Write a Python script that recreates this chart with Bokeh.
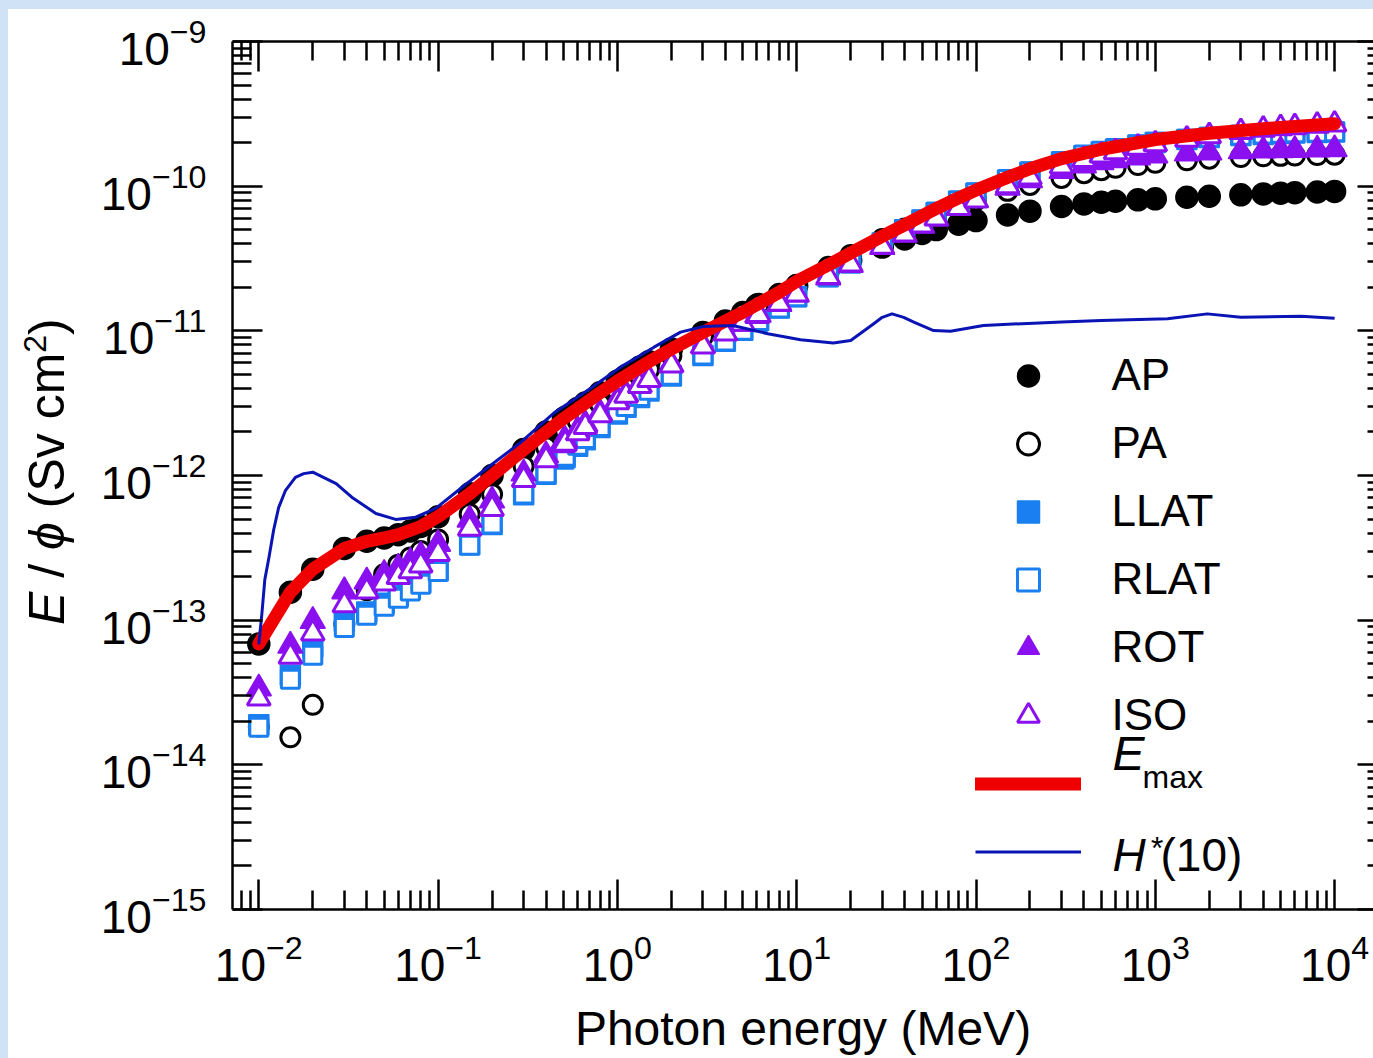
from bokeh.plotting import figure
from bokeh.models import (LogAxis, FixedTicker, Legend, LegendItem, Label, ColumnDataSource,
                          Range1d, CustomJSTickFormatter, Spacer, Div)
from bokeh.layouts import column, row
from bokeh.embed import file_html
from bokeh.resources import INLINE

# ---------------- data (pSv cm^2) ----------------
energy = [0.01, 0.015, 0.02, 0.03, 0.04, 0.05, 0.06, 0.07, 0.08, 0.1,
          0.15, 0.2, 0.3, 0.4, 0.5, 0.511, 0.6, 0.662, 0.8, 1.0,
          1.117, 1.33, 1.5, 2.0, 3.0, 4.0, 5.0, 6.0, 6.129, 8.0, 10.0,
          15.0, 20.0, 30.0, 40.0, 50.0, 60.0, 80.0, 100.0,
          150.0, 200.0, 300.0, 400.0, 500.0, 600.0, 800.0, 1000.0,
          1500.0, 2000.0, 3000.0, 4000.0, 5000.0, 6000.0, 8000.0, 10000.0]

ap = [0.0685, 0.156, 0.225, 0.313, 0.351, 0.370, 0.390, 0.413, 0.444, 0.519,
      0.748, 1.00, 1.51, 2.00, 2.47, 2.52, 2.91, 3.17, 3.73, 4.49,
      4.90, 5.59, 6.12, 7.48, 9.75, 11.7, 13.4, 15.0, 15.2, 17.8, 20.5,
      26.1, 30.8, 37.9, 43.1, 47.1, 50.1, 54.5, 57.8,
      63.2, 67.2, 72.3, 75.4, 77.4, 78.7, 80.4, 81.7, 83.8, 85.2, 87.1, 88.4, 89.5, 90.2, 91.2, 92.0]

pa = [0.0184, 0.0155, 0.0260, 0.0940, 0.161, 0.208, 0.242, 0.271, 0.301, 0.361,
      0.541, 0.741, 1.16, 1.57, 1.98, 2.03, 2.38, 2.62, 3.13, 3.83,
      4.22, 4.89, 5.39, 6.75, 9.12, 11.2, 13.1, 14.8, 15.0, 17.8, 20.8,
      27.7, 33.5, 43.1, 51.0, 57.5, 63.1, 72.3, 79.8,
      92.8, 102, 114, 123, 129, 134, 140, 145, 151, 155, 159, 161, 162, 163, 164, 165]

llat = [0.0189, 0.0416, 0.0655, 0.0983, 0.114, 0.131, 0.148, 0.164, 0.182, 0.220,
        0.332, 0.459, 0.735, 1.02, 1.30, 1.33, 1.59, 1.77, 2.15, 2.66,
        2.96, 3.46, 3.84, 4.88, 6.76, 8.47, 10.1, 11.6, 11.8, 14.4, 17.2,
        23.7, 29.6, 40.4, 49.9, 58.3, 65.8, 78.6, 89.5,
        110, 125, 147, 162, 172, 180, 192, 200, 210, 217, 224, 228, 231, 233, 235, 237]

rlat = [0.0182, 0.0390, 0.0573, 0.0891, 0.108, 0.125, 0.142, 0.159, 0.177, 0.217,
        0.330, 0.462, 0.746, 1.03, 1.33, 1.36, 1.62, 1.80, 2.18, 2.71,
        3.00, 3.51, 3.88, 4.93, 6.82, 8.52, 10.1, 11.6, 11.8, 14.4, 17.2,
        23.6, 29.4, 40.2, 49.8, 58.3, 65.9, 79.1, 90.0,
        111, 126, 148, 164, 174, 182, 193, 201, 211, 218, 225, 229, 232, 234, 236, 238]

rot = [0.0337, 0.0664, 0.0986, 0.158, 0.185, 0.208, 0.230, 0.253, 0.280, 0.336,
       0.495, 0.671, 1.03, 1.38, 1.73, 1.76, 2.06, 2.27, 2.71, 3.33,
       3.66, 4.26, 4.68, 5.86, 7.90, 9.65, 11.2, 12.7, 12.9, 15.3, 17.8,
       23.4, 28.5, 37.9, 46.1, 53.3, 59.7, 70.8, 80.1,
       97.4, 110, 127, 139, 146, 151, 158, 163, 168, 171, 174, 176, 177, 178, 179, 180]

iso = [0.0288, 0.0560, 0.0812, 0.127, 0.158, 0.180, 0.199, 0.218, 0.239, 0.287,
       0.429, 0.589, 0.932, 1.28, 1.62, 1.66, 1.96, 2.17, 2.61, 3.21,
       3.56, 4.17, 4.58, 5.77, 7.81, 9.59, 11.2, 12.7, 12.9, 15.4, 17.9,
       23.6, 28.8, 38.2, 46.4, 53.5, 59.8, 70.8, 79.8,
       100, 115, 137, 152, 163, 172, 185, 195, 210, 222, 237, 246, 252, 256, 262, 267]

emax_energy = [0.01, 0.015, 0.02, 0.03, 0.04, 0.05, 0.06, 0.08, 0.1, 0.15, 0.2, 0.3, 0.5, 0.8,
               1.0, 1.5, 2.0, 3.0, 4.0, 5.0, 6.0, 8.0, 10.0, 15.0, 20.0, 30.0, 40.0, 60.0, 80.0,
               100.0, 150.0, 200.0, 300.0, 500.0, 1000.0, 2000.0, 5000.0, 10000.0]
emax_value = [0.0685, 0.156, 0.225, 0.313, 0.351, 0.370, 0.390, 0.444, 0.519, 0.748, 1.00, 1.51, 2.47, 3.73,
              4.49, 6.12, 7.48, 9.75, 11.7, 13.4, 15.2, 18.5, 22.0, 28.5, 34.5, 45.0, 54.0, 70.0, 83.0,
              94.0, 115, 132, 155, 180, 210, 232, 255, 270]

hstar_energy = [0.010, 0.0104, 0.0108, 0.0114, 0.0121, 0.0129, 0.0141, 0.016, 0.0178, 0.020,
                0.027, 0.033, 0.045, 0.058, 0.075, 0.097, 0.14, 0.19, 0.29, 0.44, 0.68, 1.04,
                1.6, 2.25, 3.0, 4.4, 6.9, 10.5, 16.0, 20.0, 27.0, 30.0, 34.0, 39.5, 45.0, 58.0,
                72.0, 110.0, 210.0, 300.0, 500.0, 1170.0, 1950.0, 3000.0, 6500.0, 10000.0]
hstar_value = [0.068, 0.11, 0.19, 0.272, 0.42, 0.60, 0.79, 0.97, 1.03, 1.054,
               0.88, 0.708, 0.546, 0.497, 0.515, 0.592, 0.853, 1.14, 1.70, 2.69, 3.87, 5.61,
               7.71, 9.79, 10.7, 10.9, 9.55, 8.69, 8.23, 8.58, 11.24, 12.4, 13.1, 12.4, 11.5, 10.05,
               9.95, 10.9, 11.3, 11.5, 11.8, 12.1, 13.1, 12.4, 12.6, 12.2]

x_ticks = [0.01, 0.1, 1.0, 10.0, 100.0, 1000.0, 10000.0]
y_ticks = [1e-15, 1e-14, 1e-13, 1e-12, 1e-11, 1e-10, 1e-9]
series_names = ["AP", "PA", "LLAT", "RLAT", "ROT", "ISO"]

PSV = 1e-12  # pSv cm^2 -> Sv cm^2

BLUE = "#1a7ff0"
PURPLE = "#8a10f0"
RED = "#f00000"
NAVY = "#0a14b4"
FONT = "Liberation Sans"

src = ColumnDataSource(dict(
    energy=energy,
    ap=[v * PSV for v in ap], pa=[v * PSV for v in pa],
    llat=[v * PSV for v in llat], rlat=[v * PSV for v in rlat],
    rot=[v * PSV for v in rot], iso=[v * PSV for v in iso]))
emax_src = ColumnDataSource(dict(e=emax_energy, v=[v * PSV for v in emax_value]))
h_src = ColumnDataSource(dict(e=hstar_energy, v=[v * PSV for v in hstar_value]))

# frame geometry (page): left 232, right 1373, top 41, bottom 909
DIV_W = 80
decade_px = 179.3
frame_w = 1141
x_lo = -2 - 26.3 / decade_px
x_hi = x_lo + frame_w / decade_px

p = figure(width=1365 - DIV_W, height=1049, x_axis_type="log", y_axis_type="log",
           x_range=Range1d(10 ** x_lo, 10 ** x_hi), y_range=Range1d(1e-15, 1e-9),
           output_backend="svg", toolbar_location=None,
           min_border_left=224 - DIV_W, min_border_right=0, min_border_top=32,
           min_border_bottom=149)
p.margin = 0
p.grid.visible = False
p.background_fill_color = "white"
p.border_fill_color = "white"
p.outline_line_color = None

minor_x = [m * 10.0 ** k for k in range(-3, 5) for m in range(2, 10)]
minor_y = [m * 10.0 ** k for k in range(-16, -9) for m in range(2, 10)]
xt = FixedTicker(ticks=x_ticks, minor_ticks=minor_x)
yt = FixedTicker(ticks=y_ticks, minor_ticks=minor_y)


def style_axis(ax, labels=True):
    ax.major_tick_in = 30
    ax.major_tick_out = 0
    ax.minor_tick_in = 19
    ax.minor_tick_out = 0
    ax.major_tick_line_width = 2.5
    ax.minor_tick_line_width = 2.5
    ax.axis_line_width = 2.5
    ax.major_tick_line_color = "black"
    ax.minor_tick_line_color = "black"
    ax.axis_line_color = "black"
    if labels:
        ax.major_label_text_font = FONT
        ax.major_label_text_font_size = "46px"
        ax.major_label_text_color = "black"
    else:
        ax.formatter = CustomJSTickFormatter(code="return ''")
        ax.major_label_standoff = 0


xa = p.xaxis[0]
xa.ticker = xt
style_axis(xa)
xa.major_label_standoff = 24
xa.axis_label = "Photon energy (MeV)"
xa.axis_label_text_font = FONT
xa.axis_label_text_font_size = "48px"
xa.axis_label_text_font_style = "normal"
xa.axis_label_text_color = "black"
xa.axis_label_standoff = 18

ya = p.yaxis[0]
ya.ticker = yt
style_axis(ya)
ya.major_label_standoff = 26

top = LogAxis(ticker=xt)
style_axis(top, labels=False)
p.add_layout(top, "above")
right = LogAxis(ticker=yt)
style_axis(right, labels=False)
right.major_tick_in = 16
right.minor_tick_in = 6
right.axis_line_color = None
p.add_layout(right, "right")

# ---------------- marks ----------------
r_ap = p.scatter("energy", "ap", source=src, marker="circle", size=22,
                 fill_color="black", line_color="black", line_width=1.5)
r_pa = p.scatter("energy", "pa", source=src, marker="circle", size=19,
                 fill_color="white", line_color="black", line_width=3)
r_llat = p.scatter("energy", "llat", source=src, marker="square", size=20,
                   fill_color=BLUE, line_color=BLUE, line_width=1.5)
r_rlat = p.scatter("energy", "rlat", source=src, marker="square", size=18,
                   fill_color="white", line_color=BLUE, line_width=3)
r_rot = p.scatter("energy", "rot", source=src, marker="triangle", size=25,
                  fill_color=PURPLE, line_color=PURPLE, line_width=1.5)
r_iso = p.scatter("energy", "iso", source=src, marker="triangle", size=23,
                  fill_color="white", line_color=PURPLE, line_width=3)
r_emax = p.line("e", "v", source=emax_src, line_width=13, line_color=RED, line_cap="round",
                line_join="round")
r_h = p.line("e", "v", source=h_src, line_width=3, line_color=NAVY, line_join="round")

legend = Legend(items=[
    LegendItem(label=series_names[0], renderers=[r_ap]),
    LegendItem(label=series_names[1], renderers=[r_pa]),
    LegendItem(label=series_names[2], renderers=[r_llat]),
    LegendItem(label=series_names[3], renderers=[r_rlat]),
    LegendItem(label=series_names[4], renderers=[r_rot]),
    LegendItem(label=series_names[5], renderers=[r_iso]),
    LegendItem(label=" ", renderers=[r_emax]),
    LegendItem(label="  ", renderers=[r_h]),
], location=(742.5, 30.5))
legend.glyph_width = 106
legend.glyph_height = 55
legend.label_height = 55
legend.spacing = 13
legend.padding = 0
legend.margin = 0
legend.label_standoff = 31
legend.border_line_alpha = 0
legend.background_fill_alpha = 0
legend.label_text_font = FONT
legend.label_text_font_size = "44px"
legend.label_text_color = "black"
p.add_layout(legend)


def lab(x, y, text, size, style="normal"):
    p.add_layout(Label(x=x, y=y, x_units="screen", y_units="screen", text=text,
                       text_font=FONT, text_font_size=size, text_font_style=style,
                       text_color="black", text_align="left", text_baseline="alphabetic"))


# legend texts with mixed styles (frame-relative screen coordinates)
lab(880, 156, "E", "48px", "italic")
lab(910, 133, "max", "32px")
lab(880, 55, "H", "46px", "italic")
lab(917, 62, "*", "32px", "italic")
lab(928, 55, "(10)", "46px")

# y axis title (rotated HTML text with italic symbols)
ytitle = Div(width=DIV_W, height=1049, margin=0,
             styles={"background-color": "white"},
             text=(
    '<div style="position:relative;width:%dpx;height:1049px;background:#fff;">'
    '<div style="position:absolute;left:14px;top:616px;transform:rotate(-90deg);'
    'transform-origin:0 0;white-space:nowrap;font-family:\'Liberation Sans\',Arial,sans-serif;'
    'font-size:50px;line-height:50px;color:#000;">'
    '<i>E</i> / <i>\u03d5</i> (Sv cm<sup style="font-size:32px;line-height:0;">2</sup>)'
    '</div></div>' % DIV_W))

content = row(ytitle, p, margin=0, styles={"background-color": "white"})
layout = column(Spacer(height=9, margin=0),
                row(Spacer(width=8, margin=0), content, margin=0),
                margin=0, styles={"background-color": "#cfe2f6"})

open("out.html", "w").write(file_html(layout, INLINE))
